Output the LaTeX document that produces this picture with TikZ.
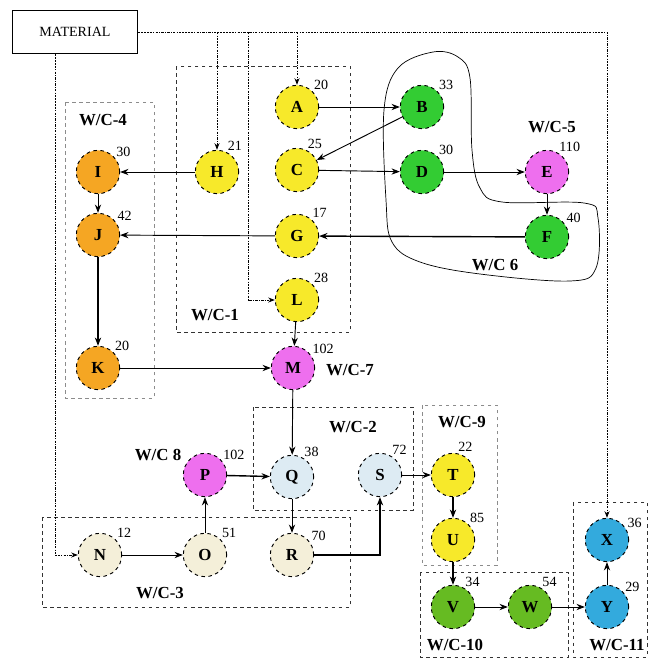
\documentclass[tikz,border=0pt]{standalone}
\usepackage{fontspec}
\setmainfont{Liberation Serif}
\usepackage{tikz}
\usetikzlibrary{arrows.meta}

\definecolor{stnyellow}{HTML}{F7E92A}
\definecolor{stnorange}{HTML}{F5A623}
\definecolor{stngreen}{HTML}{33CC33}
\definecolor{stnpink}{HTML}{EE6FEE}
\definecolor{stnblue}{HTML}{DDEBF3}
\definecolor{stncream}{HTML}{F4EFD9}
\definecolor{stnolive}{HTML}{66BB22}
\definecolor{stncyan}{HTML}{33AADD}

\begin{document}
\begin{tikzpicture}[x=0.03cm, y=-0.03cm,
    stn/.style={circle, draw=black, dashed, thick, minimum size=1.3cm, inner sep=0pt, font=\Large\bfseries},
    num/.style={font=\large, inner sep=1pt},
    wc/.style={draw=black!80, dashed, thick},
    wclight/.style={draw=black!45, dashed},
    wcname/.style={font=\Large\bfseries},
    arr/.style={-{Stealth[length=2.5mm]}, thick},
    arrb/.style={-{Stealth[length=2.5mm]}, very thick},
    feed/.style={-{Stealth[length=2mm]}, thick, black, dash pattern=on 2pt off 1pt on 1pt off 1pt}
]
\useasboundingbox (0,0) rectangle (650,664);

% work centres
\draw[wclight] (65,102) rectangle (154,398);
\node[wcname] at (103,120) {W/C-4};
\draw[wc] (176,66) rectangle (350,332);
\node[wcname] at (215,315) {W/C-1};
\draw[wc] (253,407) rectangle (413,510);
\node[wcname] at (353,427) {W/C-2};
\draw[wclight] (422,405) rectangle (497,565);
\node[wcname] at (462,422) {W/C-9};
\draw[wc] (42,517) rectangle (350,607);
\node[wcname] at (160,593) {W/C-3};
\draw[wc] (420,572) rectangle (568,657);
\node[wcname] at (455,645) {W/C-10};
\draw[wc] (573,502) rectangle (647,657);
\node[wcname] at (617,645) {W/C-11};
\draw[semithick] plot[smooth cycle, tension=0.6] coordinates {(433,52) (398,68) (384,110) (386,200) (392,242) (420,262) (480,274) (570,281) (596,268) (598,218) (584,203) (502,202) (480,188) (472,150) (470,78) (458,57)};
\node[wcname] at (495,265) {W/C 6};
\node[wcname] at (552,127) {W/C-5};
\node[wcname] at (350,370) {W/C-7};
\node[wcname] at (158,455) {W/C 8};

% material store
\node[draw, thick, minimum width=3.75cm, minimum height=1.29cm, font=\large] (mat) at (75,32) {MATERIAL};

% stations
\node[stn, fill=stnyellow, label={[num]45:20}] (A) at (297,107) {A};
\node[stn, fill=stnyellow, label={[num]65:25}] (C) at (297,170) {C};
\node[stn, fill=stnyellow, label={[num]50:17}] (G) at (297,236) {G};
\node[stn, fill=stnyellow, label={[num]45:28}] (L) at (297,300) {L};
\node[stn, fill=stnyellow, label={[num]65:21}] (H) at (217,172) {H};
\node[stn, fill=stnorange, label={[num]40:30}] (I) at (98,172) {I};
\node[stn, fill=stnorange, label={[num]35:42}] (J) at (98,235) {J};
\node[stn, fill=stnorange, label={[num]45:20}] (K) at (98,368) {K};
\node[stn, fill=stngreen, label={[num]45:33}] (B) at (422,107) {B};
\node[stn, fill=stngreen, label={[num]45:30}] (D) at (422,172) {D};
\node[stn, fill=stnpink, label={[num]60:110}] (E) at (547,172) {E};
\node[stn, fill=stngreen, label={[num]35:40}] (F) at (547,237) {F};
\node[stn, fill=stnpink, label={[num]35:102}] (M) at (293,368) {M};
\node[stn, fill=stnpink, label={[num]40:102}] (P) at (205,475) {P};
\node[stn, fill=stnblue, label={[num]60:38}] (Q) at (292,477) {Q};
\node[stn, fill=stnblue, label={[num]60:72}] (S) at (380,475) {S};
\node[stn, fill=stncream, label={[num]45:12}] (N) at (100,555) {N};
\node[stn, fill=stncream, label={[num]45:51}] (O) at (205,555) {O};
\node[stn, fill=stncream, label={[num]35:70}] (R) at (292,555) {R};
\node[stn, fill=stnyellow, label={[num]80:22}] (T) at (453,475) {T};
\node[stn, fill=stnyellow, label={[num]45:85}] (U) at (453,540) {U};
\node[stn, fill=stnolive, label={[num]60:34}] (V) at (453,607) {V};
\node[stn, fill=stnolive, label={[num]60:54}] (W) at (530,607) {W};
\node[stn, fill=stncyan, label={[num]40:29}] (Y) at (607,607) {Y};
\node[stn, fill=stncyan, label={[num]30:36}] (X) at (607,540) {X};

% material supply
\coordinate (lturn) at (248,300);
\coordinate (nturn) at (55,555);
\draw[feed] (mat.east) -| (X);
\draw[feed] (H |- mat.east) -- (H);
\draw[feed] (A |- mat.east) -- (A);
\draw[feed] (lturn |- mat.east) -- (lturn) -- (L);
\draw[feed] (nturn |- mat.south) -- (nturn) -- (N);

% part flow
\draw[arr] (A) -- (B);
\draw[arr] (B) -- (C);
\draw[arr] (C) -- (D);
\draw[arr] (D) -- (E);
\draw[arr] (E) -- (F);
\draw[arrb] (F) -- (G);
\draw[arr] (G) -- (J);
\draw[arr] (H) -- (I);
\draw[arr] (I) -- (J);
\draw[arrb] (J) -- (K);
\draw[arr] (K) -- (M);
\draw[arr] (L) -- (M);
\draw[arr] (M) -- (Q);
\draw[arrb] (P) -- (Q);
\draw[arr] (O) -- (P);
\draw[arr] (N) -- (O);
\draw[arr] (Q) -- (R);
\draw[arrb] (R) -| (S);
\draw[arr] (S) -- (T);
\draw[arrb] (T) -- (U);
\draw[arrb] (U) -- (V);
\draw[arr] (V) -- (W);
\draw[arr] (W) -- (Y);
\draw[arr] (Y) -- (X);
\end{tikzpicture}
\end{document}
